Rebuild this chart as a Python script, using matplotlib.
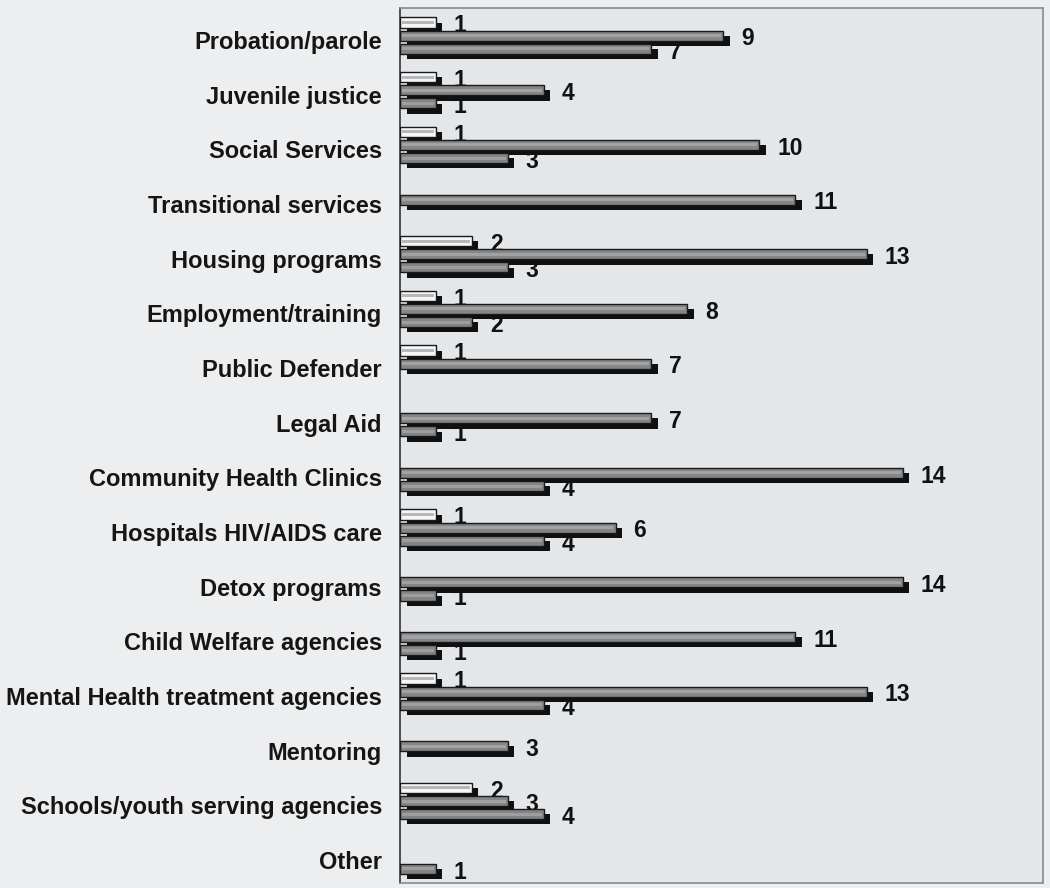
import matplotlib
matplotlib.use("Agg")
import matplotlib.pyplot as plt
import numpy as np

categories = [
    "Probation/parole", "Juvenile justice", "Social Services",
    "Transitional services", "Housing programs", "Employment/training",
    "Public Defender", "Legal Aid", "Community Health Clinics",
    "Hospitals HIV/AIDS care", "Detox programs", "Child Welfare agencies",
    "Mental Health treatment agencies", "Mentoring",
    "Schools/youth serving agencies", "Other",
]
series_a = [1, 1, 1, 0, 2, 1, 1, 0, 0, 1, 0, 0, 1, 0, 2, 0]
series_b = [9, 4, 10, 11, 13, 8, 7, 7, 14, 6, 14, 11, 13, 3, 3, 0]
series_c = [7, 1, 3, 0, 3, 2, 0, 1, 4, 4, 1, 1, 4, 0, 4, 1]

plt.rcParams["font.family"] = ["Liberation Sans", "DejaVu Sans"]

fig = plt.figure(figsize=(10.5, 8.88), dpi=100, facecolor="#eceef0")
ax = fig.add_axes([0.381, 0.0056, 0.6123, 0.9854])
ax.set_facecolor("#e4e7ea")

y = np.arange(len(categories))
bar_h = 0.185
shadow_dx, shadow_dy = 0.18, 0.095
series = [
    (series_a, -0.32, "#f6f6f6", "#b8b8b8"),
    (series_b, -0.08, "#868686", "#a2a2a2"),
    (series_c, 0.16, "#848484", "#9e9e9e"),
]

for k, (vals, off, col, hi) in enumerate(series):
    vals = np.asarray(vals, dtype=float)
    mask = vals > 0
    yy = y[mask] + off
    vv = vals[mask]
    z = 3 + 3 * k
    # drop shadow behind each bar
    ax.barh(yy + shadow_dy, vv, left=shadow_dx, height=bar_h,
            color="#101010", edgecolor="none", zorder=z)
    ax.barh(yy, vv, height=bar_h, color=col, edgecolor="#1a1a1a",
            linewidth=1.0, zorder=z + 1)
    # lighter sheen along the middle of each bar
    ax.barh(yy, vv - 0.12, left=0.06, height=bar_h * 0.3, color=hi,
            edgecolor="none", zorder=z + 2)
    for yi, vi in zip(yy, vv):
        ax.text(vi + 0.5, yi + 0.06, f"{int(vi)}", va="center", ha="left",
                fontsize=16.5, fontweight="bold", color="#111111", zorder=1)

ax.set_xlim(0, 17.9)
ax.set_ylim(15.42, -0.585)
ax.set_yticks(y)
ax.set_yticklabels(categories, fontsize=17, fontweight="bold",
                   color="#151515")
ax.tick_params(axis="y", length=0, pad=13)
ax.set_xticks([])

for side in ["top", "right", "bottom"]:
    ax.spines[side].set_color("#8a8a8a")
    ax.spines[side].set_linewidth(1.2)
ax.spines["left"].set_color("#333333")
ax.spines["left"].set_linewidth(1.2)

fig.savefig("out.png", dpi=100, facecolor=fig.get_facecolor())
